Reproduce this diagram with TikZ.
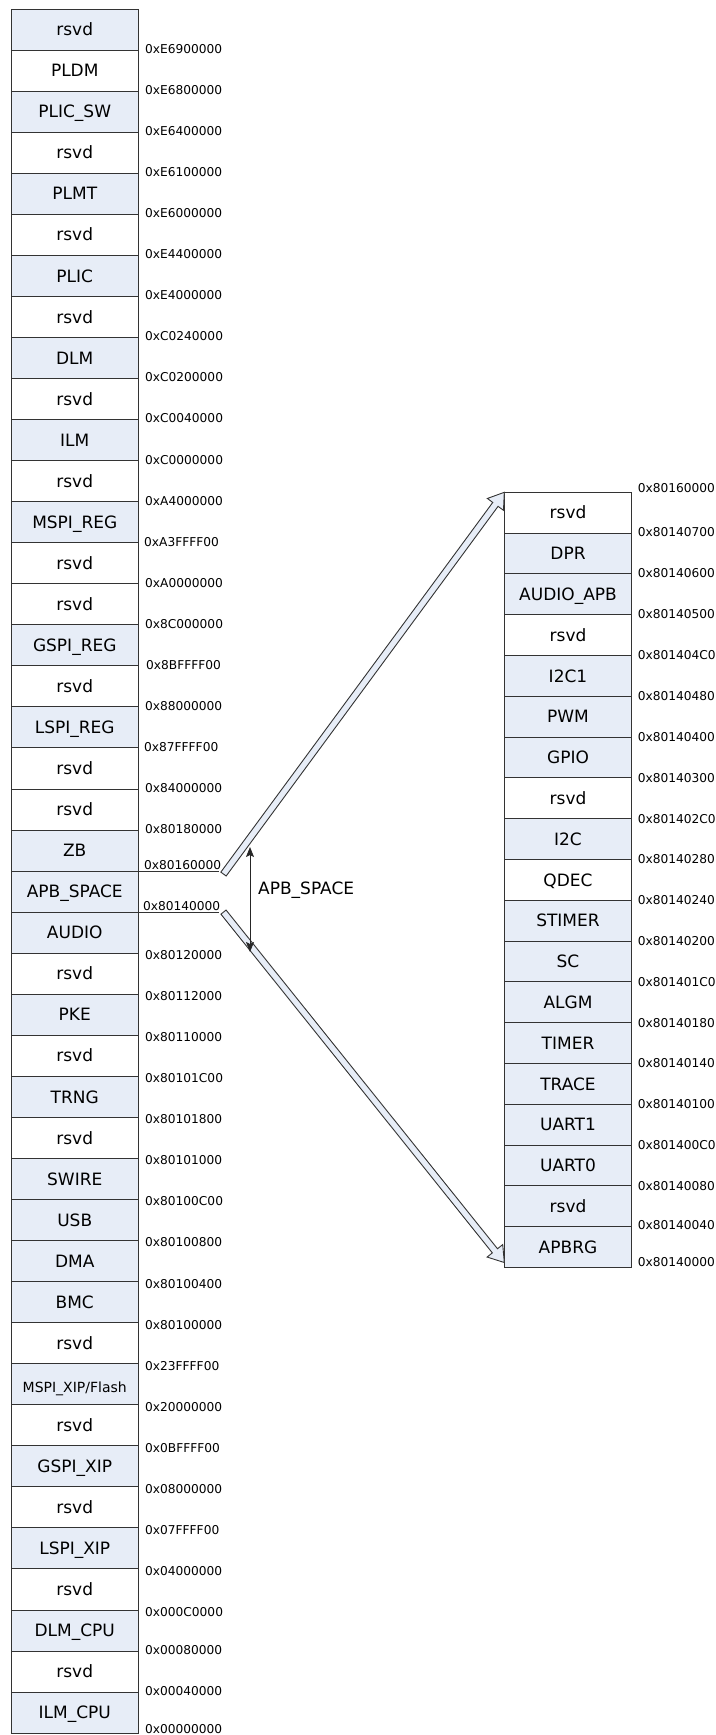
\documentclass[tikz,border=0pt]{standalone}
\usepackage{fontspec}
\setmainfont{DejaVu Sans}
\usepackage{tikz}
\usetikzlibrary{calc,arrows.meta}
\definecolor{cellblue}{HTML}{E7EDF7}

\begin{document}
\begin{tikzpicture}[x=1pt, y=1pt,
    cell/.style={draw=black!80, line width=0.9pt, minimum width=126.5pt, minimum height=41.05pt, inner sep=0pt, outer sep=0pt, text height=12.4pt, text depth=0pt, font=\fontsize{17}{20}\selectfont},
    blue cell/.style={cell, fill=cellblue},
    apb cell/.style={cell, minimum width=127.4pt, minimum height=40.8pt},
    apb blue cell/.style={apb cell, fill=cellblue},
    addr/.style={anchor=west, inner sep=0pt, text height=8.9pt, text depth=0pt, font=\fontsize{12.2}{14}\selectfont},
    big arrow/.style={draw=black!80, fill=cellblue, line width=0.9pt, line join=miter},
  ]
    \useasboundingbox (0,0) rectangle (715,-1735);

    % main memory map
    \node [blue cell, anchor=north west] (mem 1) at (11.5,-9) {rsvd};
    \node [cell, anchor=north] (mem 2) at (mem 1.south) {PLDM};
    \node [blue cell, anchor=north] (mem 3) at (mem 2.south) {PLIC\_SW};
    \node [cell, anchor=north] (mem 4) at (mem 3.south) {rsvd};
    \node [blue cell, anchor=north] (mem 5) at (mem 4.south) {PLMT};
    \node [cell, anchor=north] (mem 6) at (mem 5.south) {rsvd};
    \node [blue cell, anchor=north] (mem 7) at (mem 6.south) {PLIC};
    \node [cell, anchor=north] (mem 8) at (mem 7.south) {rsvd};
    \node [blue cell, anchor=north] (mem 9) at (mem 8.south) {DLM};
    \node [cell, anchor=north] (mem 10) at (mem 9.south) {rsvd};
    \node [blue cell, anchor=north] (mem 11) at (mem 10.south) {ILM};
    \node [cell, anchor=north] (mem 12) at (mem 11.south) {rsvd};
    \node [blue cell, anchor=north] (mem 13) at (mem 12.south) {MSPI\_REG};
    \node [cell, anchor=north] (mem 14) at (mem 13.south) {rsvd};
    \node [cell, anchor=north] (mem 15) at (mem 14.south) {rsvd};
    \node [blue cell, anchor=north] (mem 16) at (mem 15.south) {GSPI\_REG};
    \node [cell, anchor=north] (mem 17) at (mem 16.south) {rsvd};
    \node [blue cell, anchor=north] (mem 18) at (mem 17.south) {LSPI\_REG};
    \node [cell, anchor=north] (mem 19) at (mem 18.south) {rsvd};
    \node [cell, anchor=north] (mem 20) at (mem 19.south) {rsvd};
    \node [blue cell, anchor=north] (mem 21) at (mem 20.south) {ZB};
    \node [blue cell, anchor=north] (mem 22) at (mem 21.south) {APB\_SPACE};
    \node [blue cell, anchor=north] (mem 23) at (mem 22.south) {AUDIO};
    \node [cell, anchor=north] (mem 24) at (mem 23.south) {rsvd};
    \node [blue cell, anchor=north] (mem 25) at (mem 24.south) {PKE};
    \node [cell, anchor=north] (mem 26) at (mem 25.south) {rsvd};
    \node [blue cell, anchor=north] (mem 27) at (mem 26.south) {TRNG};
    \node [cell, anchor=north] (mem 28) at (mem 27.south) {rsvd};
    \node [blue cell, anchor=north] (mem 29) at (mem 28.south) {SWIRE};
    \node [blue cell, anchor=north] (mem 30) at (mem 29.south) {USB};
    \node [blue cell, anchor=north] (mem 31) at (mem 30.south) {DMA};
    \node [blue cell, anchor=north] (mem 32) at (mem 31.south) {BMC};
    \node [cell, anchor=north] (mem 33) at (mem 32.south) {rsvd};
    \node [blue cell, anchor=north, text height=16.2pt, font=\fontsize{14}{16}\selectfont] (mem 34) at (mem 33.south) {MSPI\_XIP/Flash};
    \node [cell, anchor=north] (mem 35) at (mem 34.south) {rsvd};
    \node [blue cell, anchor=north] (mem 36) at (mem 35.south) {GSPI\_XIP};
    \node [cell, anchor=north] (mem 37) at (mem 36.south) {rsvd};
    \node [blue cell, anchor=north] (mem 38) at (mem 37.south) {LSPI\_XIP};
    \node [cell, anchor=north] (mem 39) at (mem 38.south) {rsvd};
    \node [blue cell, anchor=north] (mem 40) at (mem 39.south) {DLM\_CPU};
    \node [cell, anchor=north] (mem 41) at (mem 40.south) {rsvd};
    \node [blue cell, anchor=north] (mem 42) at (mem 41.south) {ILM\_CPU};

    \node [addr, xshift=7pt, yshift=1pt] (mem addr 1) at (mem 1.south east) {0xE6900000};
    \node [addr, xshift=7pt, yshift=1pt] (mem addr 2) at (mem 2.south east) {0xE6800000};
    \node [addr, xshift=7pt, yshift=1pt] (mem addr 3) at (mem 3.south east) {0xE6400000};
    \node [addr, xshift=7pt, yshift=1pt] (mem addr 4) at (mem 4.south east) {0xE6100000};
    \node [addr, xshift=7pt, yshift=1pt] (mem addr 5) at (mem 5.south east) {0xE6000000};
    \node [addr, xshift=7pt, yshift=1pt] (mem addr 6) at (mem 6.south east) {0xE4400000};
    \node [addr, xshift=7pt, yshift=1pt] (mem addr 7) at (mem 7.south east) {0xE4000000};
    \node [addr, xshift=7pt, yshift=1pt] (mem addr 8) at (mem 8.south east) {0xC0240000};
    \node [addr, xshift=7pt, yshift=1pt] (mem addr 9) at (mem 9.south east) {0xC0200000};
    \node [addr, xshift=7pt, yshift=1pt] (mem addr 10) at (mem 10.south east) {0xC0040000};
    \node [addr, xshift=7pt, yshift=1pt] (mem addr 11) at (mem 11.south east) {0xC0000000};
    \node [addr, xshift=7pt, yshift=1pt] (mem addr 12) at (mem 12.south east) {0xA4000000};
    \node [addr, xshift=6pt, yshift=1pt] (mem addr 13) at (mem 13.south east) {0xA3FFFF00};
    \node [addr, xshift=7pt, yshift=1pt] (mem addr 14) at (mem 14.south east) {0xA0000000};
    \node [addr, xshift=7pt, yshift=1pt] (mem addr 15) at (mem 15.south east) {0x8C000000};
    \node [addr, xshift=8pt, yshift=1pt] (mem addr 16) at (mem 16.south east) {0x8BFFFF00};
    \node [addr, xshift=7pt, yshift=1pt] (mem addr 17) at (mem 17.south east) {0x88000000};
    \node [addr, xshift=6pt, yshift=1pt] (mem addr 18) at (mem 18.south east) {0x87FFFF00};
    \node [addr, xshift=7pt, yshift=1pt] (mem addr 19) at (mem 19.south east) {0x84000000};
    \node [addr, xshift=7pt, yshift=1pt] (mem addr 20) at (mem 20.south east) {0x80180000};
    \node [addr, xshift=6pt, yshift=6.5pt] (mem addr 21) at (mem 21.south east) {0x80160000};
    \node [addr, xshift=5pt, yshift=6.5pt] (mem addr 22) at (mem 22.south east) {0x80140000};
    \node [addr, xshift=7pt, yshift=-2pt] (mem addr 23) at (mem 23.south east) {0x80120000};
    \node [addr, xshift=7pt, yshift=-2pt] (mem addr 24) at (mem 24.south east) {0x80112000};
    \node [addr, xshift=7pt, yshift=-2pt] (mem addr 25) at (mem 25.south east) {0x80110000};
    \node [addr, xshift=7pt, yshift=-2pt] (mem addr 26) at (mem 26.south east) {0x80101C00};
    \node [addr, xshift=7pt, yshift=-2pt] (mem addr 27) at (mem 27.south east) {0x80101800};
    \node [addr, xshift=7pt, yshift=-2pt] (mem addr 28) at (mem 28.south east) {0x80101000};
    \node [addr, xshift=7pt, yshift=-2pt] (mem addr 29) at (mem 29.south east) {0x80100C00};
    \node [addr, xshift=7pt, yshift=-2pt] (mem addr 30) at (mem 30.south east) {0x80100800};
    \node [addr, xshift=7pt, yshift=-2pt] (mem addr 31) at (mem 31.south east) {0x80100400};
    \node [addr, xshift=7pt, yshift=-2pt] (mem addr 32) at (mem 32.south east) {0x80100000};
    \node [addr, xshift=7pt, yshift=-2pt] (mem addr 33) at (mem 33.south east) {0x23FFFF00};
    \node [addr, xshift=7pt, yshift=-2pt] (mem addr 34) at (mem 34.south east) {0x20000000};
    \node [addr, xshift=7pt, yshift=-2pt] (mem addr 35) at (mem 35.south east) {0x0BFFFF00};
    \node [addr, xshift=7pt, yshift=-2pt] (mem addr 36) at (mem 36.south east) {0x08000000};
    \node [addr, xshift=7pt, yshift=-2pt] (mem addr 37) at (mem 37.south east) {0x07FFFF00};
    \node [addr, xshift=7pt, yshift=-2pt] (mem addr 38) at (mem 38.south east) {0x04000000};
    \node [addr, xshift=7pt, yshift=-2pt] (mem addr 39) at (mem 39.south east) {0x000C0000};
    \node [addr, xshift=7pt, yshift=1pt] (mem addr 40) at (mem 40.south east) {0x00080000};
    \node [addr, xshift=7pt, yshift=1pt] (mem addr 41) at (mem 41.south east) {0x00040000};
    \node [addr, xshift=7pt, yshift=4pt] (mem addr 42) at (mem 42.south east) {0x00000000};

    % APB space map
    \node [apb cell, anchor=north west] (apb 1) at (504.3,-492.3) {rsvd};
    \node [apb blue cell, anchor=north] (apb 2) at (apb 1.south) {DPR};
    \node [apb blue cell, anchor=north] (apb 3) at (apb 2.south) {AUDIO\_APB};
    \node [apb cell, anchor=north] (apb 4) at (apb 3.south) {rsvd};
    \node [apb blue cell, anchor=north] (apb 5) at (apb 4.south) {I2C1};
    \node [apb blue cell, anchor=north] (apb 6) at (apb 5.south) {PWM};
    \node [apb blue cell, anchor=north] (apb 7) at (apb 6.south) {GPIO};
    \node [apb cell, anchor=north] (apb 8) at (apb 7.south) {rsvd};
    \node [apb blue cell, anchor=north] (apb 9) at (apb 8.south) {I2C};
    \node [apb cell, anchor=north] (apb 10) at (apb 9.south) {QDEC};
    \node [apb blue cell, anchor=north] (apb 11) at (apb 10.south) {STIMER};
    \node [apb blue cell, anchor=north] (apb 12) at (apb 11.south) {SC};
    \node [apb blue cell, anchor=north] (apb 13) at (apb 12.south) {ALGM};
    \node [apb blue cell, anchor=north] (apb 14) at (apb 13.south) {TIMER};
    \node [apb blue cell, anchor=north] (apb 15) at (apb 14.south) {TRACE};
    \node [apb blue cell, anchor=north] (apb 16) at (apb 15.south) {UART1};
    \node [apb blue cell, anchor=north] (apb 17) at (apb 16.south) {UART0};
    \node [apb blue cell, anchor=north] (apb 18) at (apb 17.south) {rsvd};
    \node [apb blue cell, anchor=north] (apb 19) at (apb 18.south) {APBRG};

    \node [addr, xshift=6pt, yshift=4pt] (apb addr 0) at (apb 1.north east) {0x80160000};
    \node [addr, xshift=6pt, yshift=1pt] (apb addr 1) at (apb 1.south east) {0x80140700};
    \node [addr, xshift=6pt, yshift=1pt] (apb addr 2) at (apb 2.south east) {0x80140600};
    \node [addr, xshift=6pt, yshift=1pt] (apb addr 3) at (apb 3.south east) {0x80140500};
    \node [addr, xshift=6pt] (apb addr 4) at (apb 4.south east) {0x801404C0};
    \node [addr, xshift=6pt] (apb addr 5) at (apb 5.south east) {0x80140480};
    \node [addr, xshift=6pt] (apb addr 6) at (apb 6.south east) {0x80140400};
    \node [addr, xshift=6pt] (apb addr 7) at (apb 7.south east) {0x80140300};
    \node [addr, xshift=6pt] (apb addr 8) at (apb 8.south east) {0x801402C0};
    \node [addr, xshift=6pt] (apb addr 9) at (apb 9.south east) {0x80140280};
    \node [addr, xshift=6pt] (apb addr 10) at (apb 10.south east) {0x80140240};
    \node [addr, xshift=6pt] (apb addr 11) at (apb 11.south east) {0x80140200};
    \node [addr, xshift=6pt] (apb addr 12) at (apb 12.south east) {0x801401C0};
    \node [addr, xshift=6pt] (apb addr 13) at (apb 13.south east) {0x80140180};
    \node [addr, xshift=6pt] (apb addr 14) at (apb 14.south east) {0x80140140};
    \node [addr, xshift=6pt] (apb addr 15) at (apb 15.south east) {0x80140100};
    \node [addr, xshift=6pt] (apb addr 16) at (apb 16.south east) {0x801400C0};
    \node [addr, xshift=6pt] (apb addr 17) at (apb 17.south east) {0x80140080};
    \node [addr, xshift=6pt, yshift=2pt] (apb addr 18) at (apb 18.south east) {0x80140040};
    \node [addr, xshift=6pt, yshift=5pt] (apb addr 19) at (apb 19.south east) {0x80140000};

    % zoom arrows
    \node [coordinate, xshift=81pt] (zb stub) at (mem 21.south east) {};
    \node [coordinate, xshift=81pt] (apb stub) at (mem 22.south east) {};
    \node [coordinate, xshift=85.5pt, yshift=-3pt] (upper tail) at (mem 21.south east) {};
    \node [coordinate, xshift=85.5pt] (lower tail) at (mem 22.south east) {};
    \node [coordinate] (upper tip) at (apb 1.north west) {};
    \node [coordinate, yshift=5pt] (lower tip) at (apb 19.south west) {};
    \node [coordinate] (upper neck) at ($(upper tip)!15pt!(upper tail)$) {};
    \node [coordinate] (lower neck) at ($(lower tip)!15pt!(lower tail)$) {};

    \draw [black!80, line width=0.9pt] (mem 21.south east) -- (zb stub);
    \draw [black!80, line width=0.9pt] (mem 22.south east) -- (apb stub);

    \draw [big arrow] ($(upper tail)!3.3pt!90:(upper tip)$) -- ($(upper neck)!3.3pt!90:(upper tip)$) -- ($(upper neck)!10pt!90:(upper tip)$) -- (upper tip) -- ($(upper neck)!10pt!-90:(upper tip)$) -- ($(upper neck)!3.3pt!-90:(upper tip)$) -- ($(upper tail)!3.3pt!-90:(upper tip)$) -- cycle;
    \draw [big arrow] ($(lower tail)!3.3pt!90:(lower tip)$) -- ($(lower neck)!3.3pt!90:(lower tip)$) -- ($(lower neck)!10pt!90:(lower tip)$) -- (lower tip) -- ($(lower neck)!10pt!-90:(lower tip)$) -- ($(lower neck)!3.3pt!-90:(lower tip)$) -- ($(lower tail)!3.3pt!-90:(lower tip)$) -- cycle;

    % APB_SPACE span
    \node [coordinate] (span top) at (250,-847) {};
    \node [coordinate] (span bottom) at (250,-952) {};
    \draw [black!85, line width=0.8pt, {Stealth[length=10pt, width=8pt, inset=2pt]}-{Stealth[length=10pt, width=8pt, inset=2pt]}] (span top) -- (span bottom);
    \node [anchor=west, inner sep=0pt, text height=12.4pt, text depth=0pt, font=\fontsize{17}{20}\selectfont] (span label) at (258,-888) {APB\_SPACE};
\end{tikzpicture}
\end{document}
